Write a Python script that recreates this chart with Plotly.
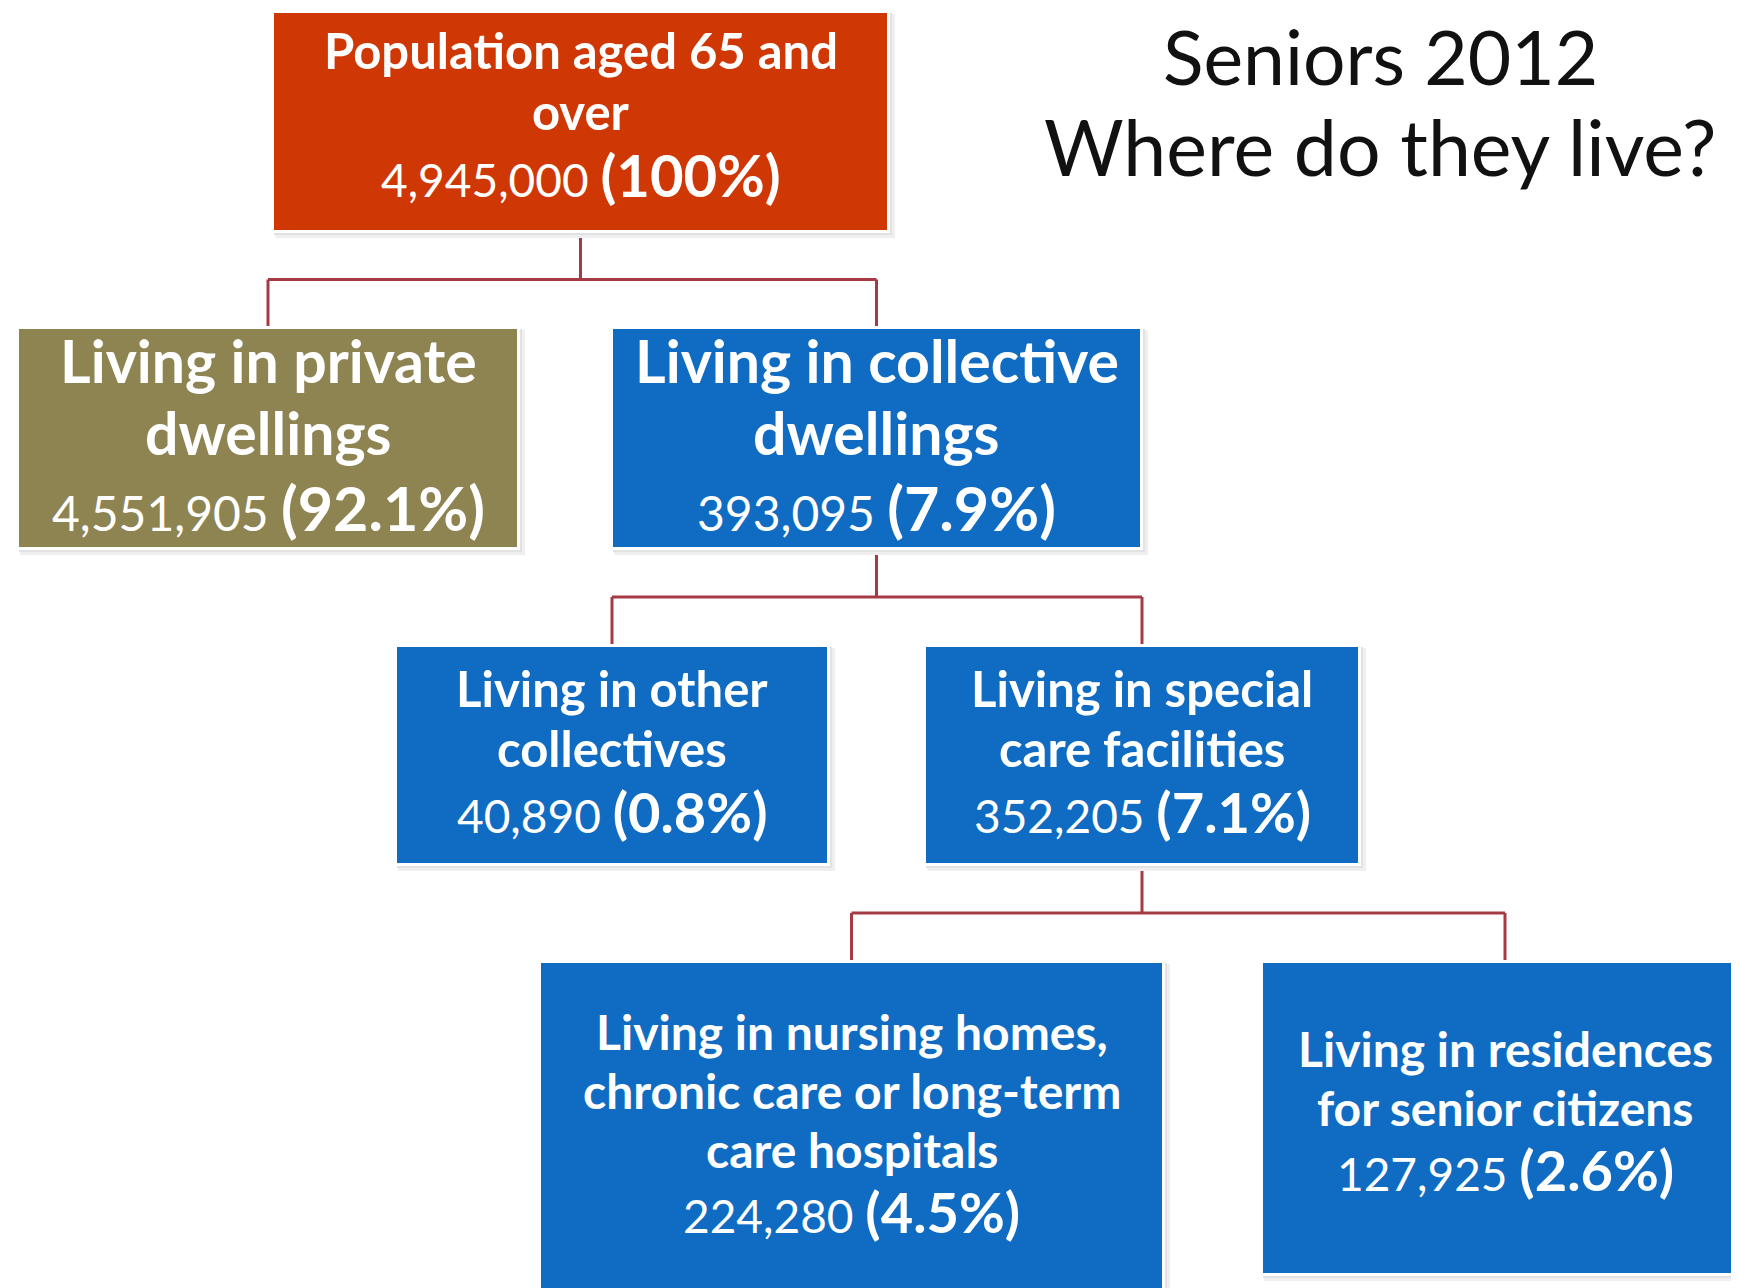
import plotly.graph_objects as go

# ---------------- data ----------------
node_labels = [
    ["Population aged 65 and", "over"],
    ["Living in private", "dwellings"],
    ["Living in collective", "dwellings"],
    ["Living in other", "collectives"],
    ["Living in special", "care facilities"],
    ["Living in nursing homes,", "chronic care or long-term", "care hospitals"],
    ["Living in residences", "for senior citizens"],
]
node_counts = [4945000, 4551905, 393095, 40890, 352205, 224280, 127925]
node_pcts = ["100%", "92.1%", "7.9%", "0.8%", "7.1%", "4.5%", "2.6%"]
node_parents = [None, 0, 0, 2, 2, 4, 4]
node_levels = [0, 1, 1, 2, 2, 3, 3]
title_lines = ["Seniors 2012", "Where do they live?"]

# ---------------- layout / style ----------------
W, H = 1739, 1288
OFF = 8  # page body margin compensation
RED, OLIVE, BLUE = "#CF3805", "#8D8452", "#0F6CC2"
node_colors = [RED, OLIVE, BLUE, BLUE, BLUE, BLUE, BLUE]
LINE = "#A63A44"
FONT = "Lato"

# box geometry (pixels): x-center, half width, top, bottom
box_geom = [
    (580.5, 306.5, 13, 230),
    (268, 249, 329, 547),
    (876.5, 263.5, 329, 547),
    (612, 215, 647, 863),
    (1142, 216, 647, 863),
    (851.5, 310.5, 963, 1300),
    (1505, 242, 963, 1273),
]
# per level: label font, label line spacing, number font, percent font
level_style = {
    0: dict(lf=49, ls=61, nf=46, pf=58),
    1: dict(lf=59, ls=72, nf=48, pf=61),
    2: dict(lf=49, ls=60, nf=46, pf=56),
    3: dict(lf=48, ls=59, nf=46, pf=56),
}
text_shift = {0: -11, 1: -6, 2: -7, 3: -6}
bottom_override = {5: 1288}  # visual centre for clipped box
extra_shift = {6: -5}

fig = go.Figure()
fig.add_trace(go.Scatter(x=[OFF, W], y=[OFF, H], mode="markers",
                         marker=dict(opacity=0), hoverinfo="skip", showlegend=False))

shapes = []
annotations = []

# connectors
children = {}
for i, p in enumerate(node_parents):
    if p is not None:
        children.setdefault(p, []).append(i)
for p, ch in children.items():
    pcx, _, _, pb = box_geom[p]
    ctop = min(box_geom[c][2] for c in ch)
    mid = (pb + ctop) / 2
    shapes.append(dict(type="line", x0=pcx, x1=pcx, y0=pb + 4, y1=mid,
                       line=dict(color=LINE, width=3), layer="below"))
    xs = [box_geom[c][0] for c in ch]
    shapes.append(dict(type="line", x0=min(xs), x1=max(xs), y0=mid, y1=mid,
                       line=dict(color=LINE, width=3), layer="below"))
    for c in ch:
        cx, _, ct, _ = box_geom[c]
        shapes.append(dict(type="line", x0=cx, x1=cx, y0=mid, y1=ct - 2,
                           line=dict(color=LINE, width=3), layer="below"))

# boxes with soft shadow
for i, (cx, hw, t, b) in enumerate(box_geom):
    for d, col in [(8, "#EFEFEF"), (5, "#E2E2E2")]:
        shapes.append(dict(type="rect", x0=cx - hw - 2 + d * 0.4, x1=cx + hw + d,
                           y0=t - 2 + d * 0.4, y1=b + d, fillcolor=col,
                           line=dict(width=0), layer="below"))
    shapes.append(dict(type="rect", x0=cx - hw - 3, x1=cx + hw + 3, y0=t - 3, y1=b + 3,
                       fillcolor="#FFFFFF", line=dict(width=0), layer="below"))
    shapes.append(dict(type="rect", x0=cx - hw, x1=cx + hw, y0=t, y1=b,
                       fillcolor=node_colors[i], line=dict(width=0), layer="below"))

# texts
for i, lines in enumerate(node_labels):
    cx, hw, t, b = box_geom[i]
    b = bottom_override.get(i, b)
    lvl = node_levels[i]
    st = level_style[lvl]
    n = len(lines)
    cy = (t + b) / 2 + text_shift[lvl] + extra_shift.get(i, 0)
    for k, ln in enumerate(lines):
        y = cy + (k - n / 2) * st["ls"]
        annotations.append(dict(x=cx, y=y, xref="x", yref="y", showarrow=False,
                                text=f"<b>{ln}</b>", xanchor="center", yanchor="middle",
                                font=dict(family=FONT, size=st["lf"], color="white")))
    y = cy + (n - n / 2) * st["ls"] + 3
    txt = (f"{node_counts[i]:,} <b><span style='font-size:{st['pf']}px'>"
           f"({node_pcts[i]})</span></b>")
    annotations.append(dict(x=cx, y=y, xref="x", yref="y", showarrow=False,
                            text=txt, xanchor="center", yanchor="middle",
                            font=dict(family=FONT, size=st["nf"], color="white")))

# title
title_sizes = [75, 77]
title_y = [56, 146]
for k, ln in enumerate(title_lines):
    annotations.append(dict(x=1380, y=title_y[k], xref="x", yref="y", showarrow=False,
                            text=ln, xanchor="center", yanchor="middle", borderpad=0,
                            font=dict(family=FONT, size=title_sizes[k], color="#111111")))

fig.update_layout(
    width=W - OFF, height=H - OFF, margin=dict(l=0, r=0, t=0, b=0),
    paper_bgcolor="white", plot_bgcolor="white",
    xaxis=dict(range=[OFF, W], visible=False, fixedrange=True),
    yaxis=dict(range=[H, OFF], visible=False, fixedrange=True),
    shapes=shapes, annotations=annotations, showlegend=False,
)
fig.write_html("out.html")
